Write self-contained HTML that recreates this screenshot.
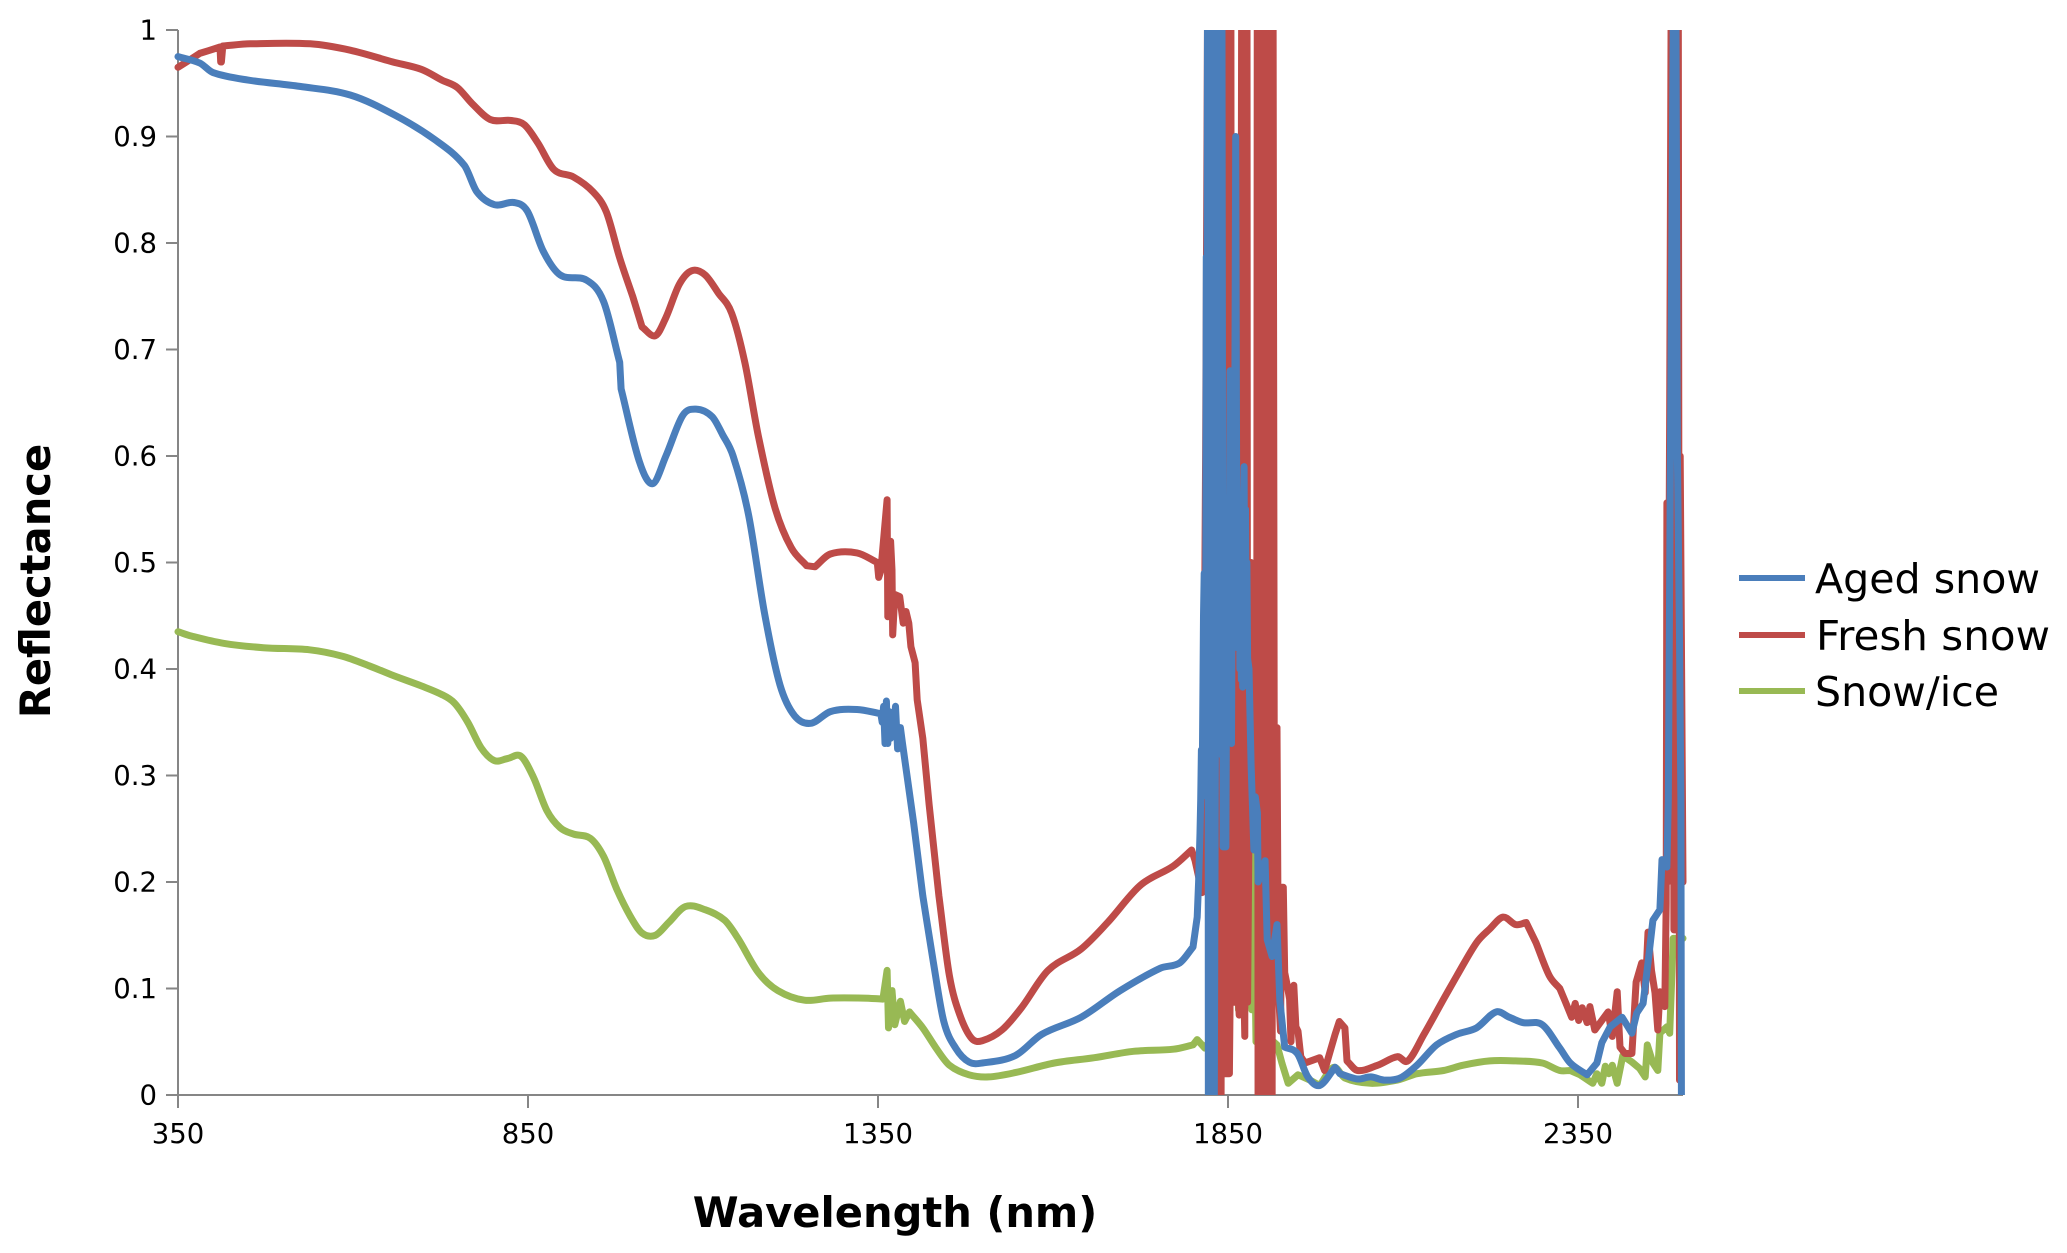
<!DOCTYPE html>
<html>
<head>
<meta charset="utf-8">
<title>Snow reflectance spectra</title>
<style>
html,body{margin:0;padding:0;background:#fff;}
svg{display:block;font-family:"DejaVu Sans","Liberation Sans",sans-serif;}
</style>
</head>
<body>
<svg id="chart" width="2067" height="1253" viewBox="0 0 2067 1253" xmlns="http://www.w3.org/2000/svg">
  <rect x="0" y="0" width="2067" height="1253" fill="#ffffff"/>
  <defs><clipPath id="plot-clip"><rect x="170" y="30" width="1520" height="1065"/></clipPath></defs>
  <g id="axes"></g>
  <g id="series" clip-path="url(#plot-clip)"></g>
  <text transform="translate(50,581) rotate(-90)" text-anchor="middle" font-size="41.6" font-weight="bold" fill="#000">Reflectance</text>
  <text x="895" y="1227" text-anchor="middle" font-size="41.6" font-weight="bold" fill="#000">Wavelength (nm)</text>
  <g>
    <g>
      <line x1="1739" x2="1805" y1="578" y2="578" stroke="#4a7ebb" stroke-width="6"/>
      <text x="1815" y="593" font-size="41" fill="#000" textLength="225" lengthAdjust="spacingAndGlyphs">Aged snow</text>
    </g>
    <g>
      <line x1="1739" x2="1805" y1="635" y2="635" stroke="#be4b48" stroke-width="6"/>
      <text x="1816" y="650" font-size="41" fill="#000" textLength="234" lengthAdjust="spacingAndGlyphs">Fresh snow</text>
    </g>
    <g>
      <line x1="1739" x2="1805" y1="691" y2="691" stroke="#98b954" stroke-width="6"/>
      <text x="1815" y="706" font-size="41" fill="#000" textLength="184" lengthAdjust="spacingAndGlyphs">Snow/ice</text>
    </g>
  </g>
</svg>
<script>
const xTickLabels = [350, 850, 1350, 1850, 2350];
const yTickLabels = ['0', '0.1', '0.2', '0.3', '0.4', '0.5', '0.6', '0.7', '0.8', '0.9', '1'];

const agedWavelengths = [
  350,381,400,450,524,596,660,717,759,777,802,830,
  849,872,896,934,958,981,983,1009,1028,1047,1071,1090,
  1113,1128,1143,1165,1188,1210,1231,1254,1282,1320,1354,
  1356,1358,1360,1362,1364,1366,1368,1372,1375,1378,1382,1385,
  1391,1401,1414,1429,1444,1461,1480,1499,1546,1584,1640,1696,
  1753,1781,1800,1806,1808,1810,1811,1812,1813,1815,1816,1818,
  1819,1820,1821,1822,1824,1826,1828,1830,1832,1834,1836,1838,
  1840,1841,1843,1844,1845,1846,1847,1849,1851,1853,1855,1857,
  1859,1861,1863,1864,1865,1866,1867,1868,1869,1870,1871,1872,
  1873,1874,1875,1876,1877,1878,1880,1883,1885,1887,1889,1892,
  1893,1896,1903,1906,1913,1920,1924,1931,1949,1964,1981,2003,
  2010,2035,2054,2073,2096,2120,2148,2177,2205,2233,2252,2271,
  2299,2324,2339,2363,2377,2384,2396,2413,2427,2434,2443,2450,
  2457,2467,2470,2477,2479,2483,2488,2489,2492,2495,2497,2498,
  2500
];
const agedReflectance = [
  .975,.969,.96,.953,.947,.939,.92,.897,.873,.848,.836,.838,
  .83,.792,.77,.765,.745,.688,.663,.595,.574,.6,.638,.644,
  .637,.62,.6,.545,.452,.385,.356,.349,.36,.362,.358,
  .35,.365,.33,.37,.33,.36,.335,.34,.365,.325,.345,.33,
  .302,.255,.187,.125,.069,.044,.031,.03,.037,.057,.073,.098,
  .119,.124,.139,.167,.2,.246,.277,.324,.28,.45,.49,.32,
  .787,.6,1.2,-.1,1.2,-.1,1.2,-.1,.33,1.2,.32,1.2,
  .32,1.2,.233,.56,.233,.56,.233,.56,.33,.68,.33,.67,
  .5,.9,.42,.56,.42,.56,.4,.56,.39,.56,.383,.55,
  .59,.42,.55,.42,.5,.41,.4,.31,.27,.23,.28,.265,
  .2,.205,.22,.146,.13,.16,.089,.045,.039,.017,.009,.026,
  .02,.015,.017,.014,.016,.028,.047,.057,.063,.078,.073,.068,
  .066,.044,.03,.019,.03,.049,.064,.073,.058,.077,.086,.124,
  .164,.174,.221,.214,.277,.7,1.2,1.2,.6,.43,.277,-.1,
  -.1
];

const freshWavelengths = [
  350,367,381,410,411,412,414,453,539,596,657,698,
  727,749,770,796,826,845,864,887,915,943,962,981,
  1000,1013,1032,1047,1066,1084,1103,1122,1141,1160,1179,1203,
  1226,1248,1260,1282,1320,1349,1351,1354,1363,1364,1368,1370,
  1371,1374,1381,1386,1390,1394,1397,1403,1406,1414,1423,1437,
  1452,1467,1484,1499,1527,1555,1593,1640,1678,1725,1772,1798,
  1803,1813,1815,1818,1822,1826,1830,1834,1838,1840,1842,1843,
  1845,1846,1847,1848,1849,1850,1851,1852,1853,1854,1855,1856,1857,1858,1859,1860,
  1861,1862,1863,1864,1865,1866,1867,1868,1869,1870,1871,1872,
  1873,1874,1875,1876,1877,1878,1883,1891,
  1892,1893,1895,1897,1899,1901,1903,1905,1907,1909,1911,1913,
  1914,1916,1920,1922,1925,1927,1929,1931,1934,1938,1940,1942,
  1944,1947,1950,1954,1960,1981,1988,2003,2009,2017,2020,2035,
  2064,2092,2107,2130,2158,2177,2205,2224,2243,2261,2276,2290,
  2309,2324,2331,2341,2346,2351,2356,2363,2367,2374,2384,2393,
  2399,2406,2410,2417,2427,2433,2441,2446,2450,2455,2460,2464,
  2467,2474,2476,2477,2478,2481,2484,2487,2488,2490,2492,
  2493,2495,2496,2498,2500
];
const freshReflectance = [
  .965,.972,.978,.984,.97,.97,.985,.987,.987,.981,.97,.963,
  .953,.946,.931,.916,.915,.911,.894,.869,.862,.848,.829,.786,
  .749,.721,.713,.73,.761,.774,.77,.753,.734,.687,.619,.551,
  .514,.497,.496,.508,.509,.5,.486,.492,.559,.449,.52,.493,
  .432,.47,.468,.443,.454,.443,.421,.406,.371,.335,.273,.187,
  .112,.075,.053,.051,.061,.082,.117,.137,.162,.197,.215,.23,
  .22,.19,.28,.6,1.2,-.1,1.2,-.1,1.2,-.1,1.2,.02,
  1.2,.02,1.2,.02,1.2,.02,1.2,.02,.09,1.2,.09,.85,.087,.85,.087,.85,
  .087,.85,.087,.85,.087,.075,.85,.087,.85,1.2,.087,1.2,
  .087,.055,1.2,.087,1.2,.087,.5,.3,
  1.2,-.1,1.2,-.1,1.2,-.1,1.2,-.1,1.2,-.1,1.2,-.1,
  1.2,.345,.345,.1,.06,.195,.195,.115,.105,.09,.05,.1,
  .103,.064,.06,.036,.03,.035,.023,.057,.069,.063,.032,.023,
  .028,.036,.032,.057,.09,.112,.143,.156,.167,.16,.162,.143,
  .112,.1,.089,.073,.086,.07,.082,.068,.083,.061,.07,.078,
  .055,.097,.045,.039,.039,.106,.124,.096,.153,.117,.096,.061,
  .097,.083,.18,.556,.2,.65,1.2,.155,.155,1.2,.3,
  1.2,.014,.6,.4,.2
];

const iceWavelengths = [
  350,369,416,472,538,585,623,657,698,727,745,764,
  783,802,821,840,858,877,896,915,939,958,977,996,
  1013,1032,1051,1075,1103,1131,1150,1179,1207,1245,1282,1329,
  1357,1363,1365,1370,1374,1382,1388,1395,1414,1433,1452,1480,
  1508,1546,1602,1659,1715,1772,1800,1806,1817,1823,1830,1840,
  1850,1860,1865,1880,1884,1885,1886,1887,1888,1890,1915,1920,1927,1936,
  1950,1967,1981,2001,2017,2054,2092,2120,2158,2186,2224,2261,
  2299,2324,2339,2353,2371,2377,2384,2389,2394,2399,2406,2414,
  2427,2438,2446,2449,2457,2464,2467,2477,2481,2486,2490,2500
];
const iceReflectance = [
  .435,.431,.424,.42,.418,.412,.403,.394,.384,.376,.368,.35,
  .326,.314,.316,.318,.298,.267,.251,.245,.241,.224,.193,.168,
  .152,.15,.162,.177,.174,.164,.147,.115,.098,.089,.091,.091,
  .09,.117,.063,.098,.066,.088,.069,.078,.063,.044,.028,.019,
  .017,.021,.03,.035,.041,.043,.047,.052,.044,.05,.3,.1,
  .3,.48,.08,.1,.08,.145,.25,.09,.145,.05,.05,.047,.03,.011,
  .019,.014,.009,.026,.016,.011,.014,.02,.023,.028,.032,.032,
  .03,.023,.023,.019,.011,.02,.011,.027,.02,.028,.011,.037,
  .031,.025,.017,.047,.03,.023,.058,.064,.058,.147,.147,.147
];

const svgNS = 'http://www.w3.org/2000/svg';
const axesGroup = document.getElementById('axes');
const seriesGroup = document.getElementById('series');

function xScale(nm) { return 178 + (nm - 350) * 0.7; }
function yScale(v) { return 1095 - v * 1065; }

function svgEl(tag, attrs) {
  const el = document.createElementNS(svgNS, tag);
  for (const k in attrs) el.setAttribute(k, attrs[k]);
  return el;
}

const axisColor = '#868686';

const yAxisLine = svgEl('line', {x1: xScale(350), x2: xScale(350), y1: yScale(1), y2: yScale(0), stroke: axisColor, 'stroke-width': 2});


axesGroup.appendChild(yAxisLine);

const xAxisLine = svgEl('line', {x1: xScale(350), x2: xScale(2500), y1: yScale(0), y2: yScale(0), stroke: axisColor, 'stroke-width': 2});


axesGroup.appendChild(xAxisLine);

yTickLabels.forEach(function (label) {
  const y = yScale(parseFloat(label));
  const tick = svgEl('line', {x1: xScale(350) - 12, x2: xScale(350), y1: y, y2: y, stroke: axisColor, 'stroke-width': 2});
  
  
  axesGroup.appendChild(tick);
  const text = svgEl('text', {x: xScale(350) - 21, y: y + 9.5, 'text-anchor': 'end', 'font-size': 27.5, fill: '#000'});
  
  
  text.textContent = label;
  axesGroup.appendChild(text);
});

xTickLabels.forEach(function (label) {
  const x = xScale(label);
  const tick = svgEl('line', {x1: x, x2: x, y1: yScale(0), y2: yScale(0) + 13, stroke: axisColor, 'stroke-width': 2});
  
  
  axesGroup.appendChild(tick);
  const text = svgEl('text', {x: x, y: 1143, 'text-anchor': 'middle', 'font-size': 27.5, fill: '#000'});
  
  
  text.textContent = label;
  axesGroup.appendChild(text);
});

/* Wide-spaced readings are joined with smooth curves; the dense noisy readings stay as straight segments. */
function linePath(wavelengths, values) {
  const n = Math.min(wavelengths.length, values.length);
  const px = [], py = [];
  for (let i = 0; i < n; i++) {
    px.push(xScale(wavelengths[i]));
    py.push(yScale(values[i]));
  }
  const minGap = 10;
  function slope(i) {
    if (i <= 0 || i >= n - 1) return null;
    if (px[i] - px[i - 1] < minGap || px[i + 1] - px[i] < minGap) return null;
    return (py[i + 1] - py[i - 1]) / (px[i + 1] - px[i - 1]);
  }
  let d = 'M' + px[0].toFixed(1) + ' ' + py[0].toFixed(1);
  for (let i = 0; i < n - 1; i++) {
    const dx = px[i + 1] - px[i];
    if (dx < minGap) {
      d += 'L' + px[i + 1].toFixed(1) + ' ' + py[i + 1].toFixed(1);
    } else {
      const segSlope = (py[i + 1] - py[i]) / dx;
      const s0 = slope(i) === null ? segSlope : slope(i);
      const s1 = slope(i + 1) === null ? segSlope : slope(i + 1);
      d += 'C' + (px[i] + dx / 3).toFixed(1) + ' ' + (py[i] + s0 * dx / 3).toFixed(1) + ' ' +
           (px[i + 1] - dx / 3).toFixed(1) + ' ' + (py[i + 1] - s1 * dx / 3).toFixed(1) + ' ' +
           px[i + 1].toFixed(1) + ' ' + py[i + 1].toFixed(1);
    }
  }
  return d;
}

function lineStyle(d, color) {
  return {d: d, fill: 'none', stroke: color, 'stroke-width': 7, 'stroke-linejoin': 'round', 'stroke-linecap': 'round'};
}

const iceLine = svgEl('path', lineStyle(linePath(iceWavelengths, iceReflectance), '#98b954'));


seriesGroup.appendChild(iceLine);

const freshLine = svgEl('path', lineStyle(linePath(freshWavelengths, freshReflectance), '#be4b48'));


seriesGroup.appendChild(freshLine);

const agedLine = svgEl('path', lineStyle(linePath(agedWavelengths, agedReflectance), '#4a7ebb'));


seriesGroup.appendChild(agedLine);
</script>
</body>
</html>
